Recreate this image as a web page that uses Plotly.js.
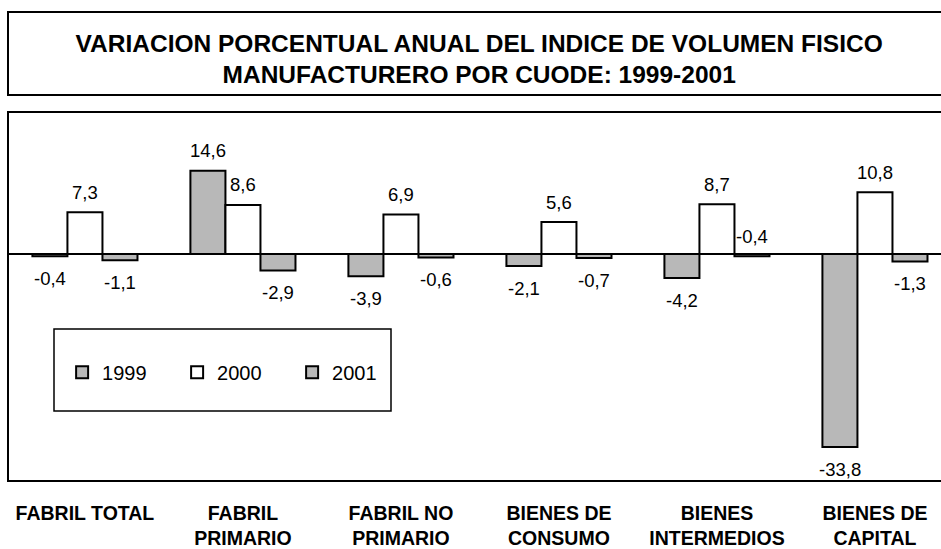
<!DOCTYPE html>
<html>
<head>
<meta charset="utf-8">
<script src="https://cdn.plot.ly/plotly-3.0.1.min.js"></script>
<style>
html,body{margin:0;padding:0;background:#fff;}
#chart{width:941px;height:549px;}
</style>
</head>
<body>
<div id="chart"></div>
<script>
// ---- data ----
const categories = ['FABRIL TOTAL', 'FABRIL<br>PRIMARIO', 'FABRIL NO<br>PRIMARIO', 'BIENES DE<br>CONSUMO', 'BIENES<br>INTERMEDIOS', 'BIENES DE<br>CAPITAL'];
const seriesNames = ['1999', '2000', '2001'];
const values1999 = [-0.4, 14.6, -3.9, -2.1, -4.2, -33.8];
const values2000 = [7.3, 8.6, 6.9, 5.6, 8.7, 10.8];
const values2001 = [-1.1, -2.9, -0.6, -0.7, -0.4, -1.3];
// labels drawn on the other side of the bar: [seriesIndex, categoryIndex]
const flippedLabels = [[2, 4]];

const titleText = 'VARIACION PORCENTUAL ANUAL DEL INDICE DE VOLUMEN FISICO<br>MANUFACTURERO POR CUODE: 1999-2001';

// ---- styles ----
const FONT = 'Liberation Sans, Arial, sans-serif';
const GRAY = '#b8b8b8';
const colors = [GRAY, '#ffffff', GRAY];
const allValues = [values1999, values2000, values2001];
const BARGAP = 0.335;
const barW = (1 - BARGAP) / 3;

const traces = allValues.map((vals, s) => ({
  type: 'bar',
  name: seriesNames[s],
  x: categories,
  y: vals,
  marker: {color: colors[s], line: {color: '#000', width: 2}},
  hoverinfo: 'skip'
}));

const fmt = v => v.toFixed(1).replace('.', ',');
const annotations = [];
allValues.forEach((vals, s) => {
  vals.forEach((v, c) => {
    const flip = flippedLabels.some(p => p[0] === s && p[1] === c);
    let up = v >= 0;
    if (flip) up = !up;
    annotations.push({
      xref: 'x', yref: 'y',
      x: c + (s - 1) * barW,
      y: v,
      text: fmt(v),
      showarrow: false,
      yanchor: 'middle',
      yshift: up ? 20 : -22,
      font: {family: FONT, size: 18.5, color: '#000'}
    });
  });
});

const layout = {
  width: 941, height: 549,
  margin: {l: 8, r: 0, t: 112, b: 68, pad: 0},
  paper_bgcolor: '#fff', plot_bgcolor: '#fff',
  font: {family: FONT, color: '#000'},
  title: {
    text: titleText,
    font: {family: FONT, size: 24.5, weight: 'bold', color: '#000'},
    x: 0.505, xanchor: 'center', xref: 'paper',
    y: 0.906, yanchor: 'middle', yref: 'container'
  },
  barmode: 'group',
  bargap: BARGAP,
  bargroupgap: 0,
  xaxis: {
    type: 'category',
    range: [-0.487, 5.418],
    showgrid: false, zeroline: false, showline: false,
    ticks: '', fixedrange: true,
    tickfont: {family: FONT, size: 19.5, weight: 'bold', color: '#000'},
    ticklabelstandoff: 18
  },
  yaxis: {
    range: [-39.75, 24.87],
    showgrid: false, showticklabels: false, ticks: '',
    showline: false,
    zeroline: true, zerolinecolor: '#000', zerolinewidth: 1.5,
    fixedrange: true
  },
  showlegend: true,
  legend: {
    orientation: 'h',
    x: 0.058, xanchor: 'left', xref: 'paper',
    y: 0.295, yanchor: 'middle', yref: 'paper',
    bgcolor: 'rgba(0,0,0,0)', borderwidth: 0,
    font: {family: FONT, size: 20, color: '#000'},
    entrywidth: 70, entrywidthmode: 'pixels',
    traceorder: 'normal'
  },
  shapes: [
    // title box
    {type: 'rect', xref: 'paper', yref: 'paper', x0: 0, x1: 1.05, y0: 1.046, y1: 1.271,
     line: {color: '#000', width: 2}, fillcolor: 'rgba(0,0,0,0)'},
    // plot box
    {type: 'rect', xref: 'paper', yref: 'paper', x0: 0, x1: 1.05, y0: 0, y1: 1,
     line: {color: '#000', width: 2}, fillcolor: 'rgba(0,0,0,0)'},
    // legend box
    {type: 'rect', xref: 'paper', yref: 'paper',
     x0: (54 - 8) / 933, x1: (391 - 8) / 933, y0: (481 - 411) / 369, y1: (481 - 329) / 369,
     line: {color: '#000', width: 1.5}, fillcolor: 'rgba(0,0,0,0)'}
  ],
  annotations: annotations
};

Plotly.newPlot('chart', traces, layout, {displayModeBar: false, staticPlot: true});
</script>
</body>
</html>
